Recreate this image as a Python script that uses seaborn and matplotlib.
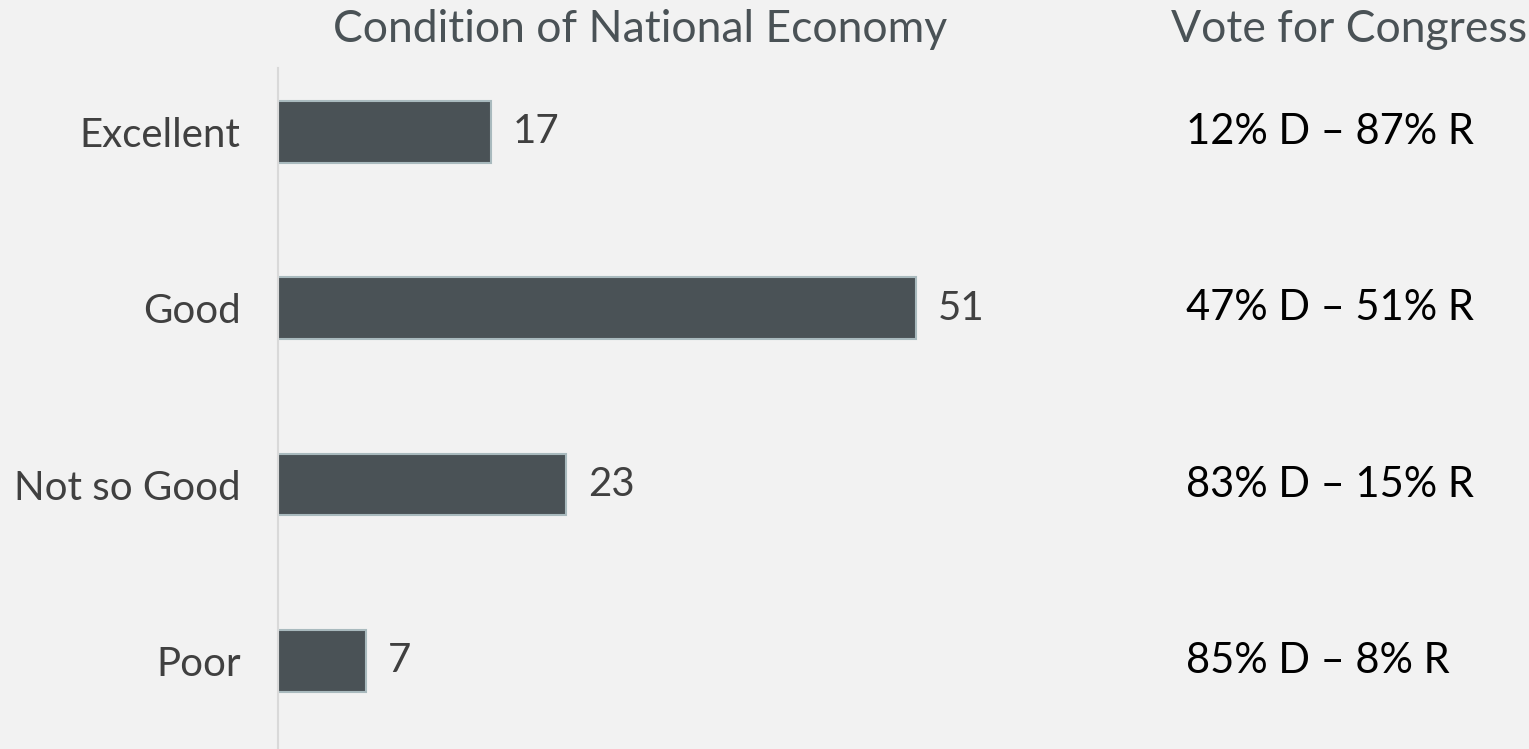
import matplotlib
matplotlib.use("Agg")
import matplotlib.pyplot as plt
import seaborn as sns
import pandas as pd
from matplotlib.transforms import blended_transform_factory

categories = ["Excellent", "Good", "Not so Good", "Poor"]
shares = [17, 51, 23, 7]
vote_labels = ["12% D \u2013 87% R", "47% D \u2013 51% R", "83% D \u2013 15% R", "85% D \u2013 8% R"]

sns.set_theme(style="white")
plt.rcParams["font.family"] = ["Lato", "DejaVu Sans"]

BG = "#f2f2f2"
BAR = "#4a5256"
EDGE = "#a9babe"
TEXT = "#404040"
HEAD = "#4a5256"

df = pd.DataFrame({"category": categories, "share": shares})

fig = plt.figure(figsize=(15.29, 7.49), dpi=100, facecolor=BG)
ax = fig.add_axes([278 / 1529, 0.0, 750 / 1529, 1 - 68 / 749])
ax.set_facecolor(BG)

sns.barplot(data=df, x="share", y="category", order=categories, color=BAR,
            width=0.35, edgecolor=EDGE, linewidth=1.5, saturation=1, ax=ax)

ax.set_xlim(0, 60)
ax.set_ylim(3.5, -0.363)
ax.set_xlabel("")
ax.set_ylabel("")
ax.set_xticks([])
for side in ["top", "right", "bottom"]:
    ax.spines[side].set_visible(False)
ax.spines["left"].set_color("#d9d9d9")
ax.spines["left"].set_linewidth(1.5)
ax.tick_params(axis="y", length=0, pad=27, labelsize=29, labelcolor=TEXT)

# value labels just past each bar end
for i, v in enumerate(shares):
    ax.annotate(str(v), xy=(v, i), xytext=(16, 0), textcoords="offset points",
                va="center", ha="left", fontsize=29, color=TEXT)

fig.text(640 / 1529, 1 - 30 / 749, "Condition of National Economy", ha="center",
         va="center", fontsize=32, color=HEAD)
fig.text(1349 / 1529, 1 - 30 / 749, "Vote for Congress", ha="center",
         va="center", fontsize=32, color=HEAD)

# congressional vote split for each group, in a column at the right
tr = blended_transform_factory(fig.transFigure, ax.transData)
for i, lab in enumerate(vote_labels):
    ax.text(1186 / 1529, i, lab, transform=tr, ha="left", va="center",
            fontsize=30, color="black", clip_on=False)

fig.savefig("out.png", dpi=100, facecolor=BG)
